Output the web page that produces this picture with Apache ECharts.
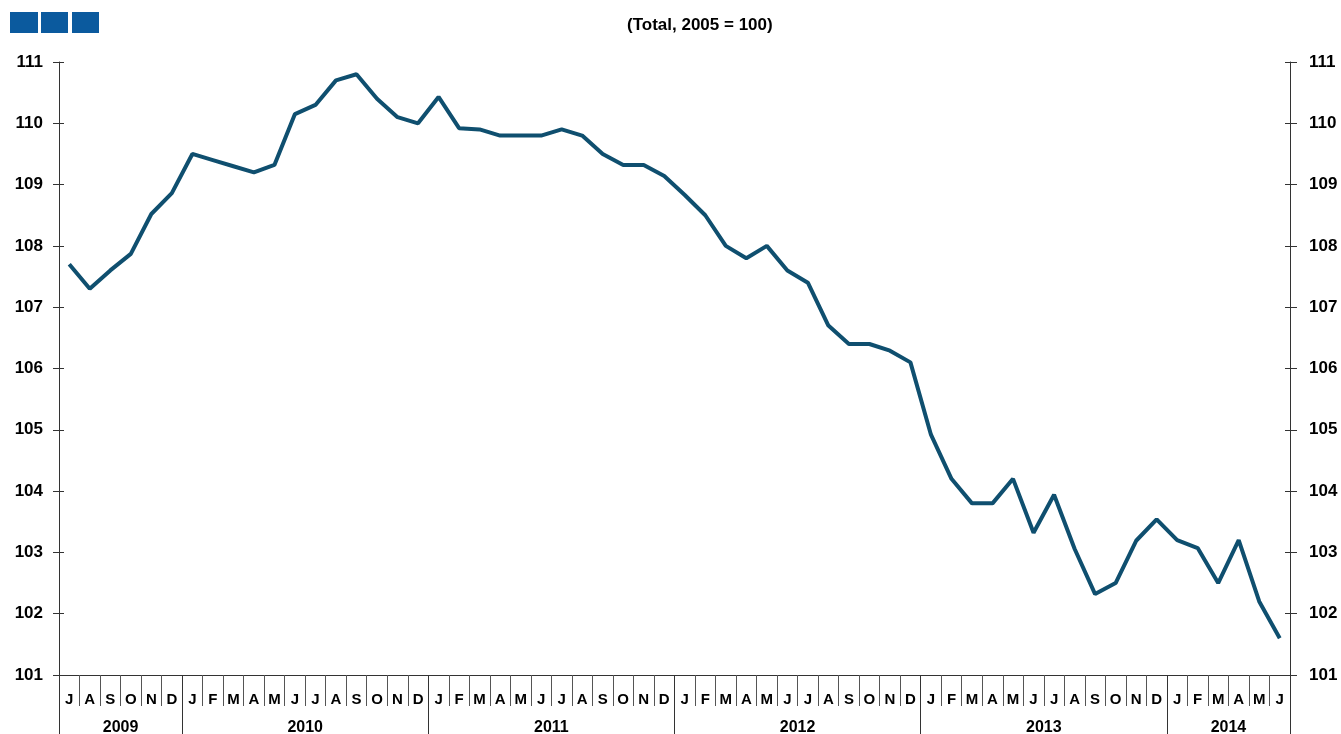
<!DOCTYPE html>
<html>
<head>
<meta charset="utf-8">
<script src="https://cdn.jsdelivr.net/npm/echarts@6/dist/echarts.min.js"></script>
<style>
  html, body { margin: 0; padding: 0; background: #fff; }
  #grafico { width: 1341px; height: 734px; }
</style>
</head>
<body>
<div id="grafico"></div>
<script>
// months Jul 2009 - Jun 2014
var months = [
  'J','A','S','O','N','D',
  'J','F','M','A','M','J','J','A','S','O','N','D',
  'J','F','M','A','M','J','J','A','S','O','N','D',
  'J','F','M','A','M','J','J','A','S','O','N','D',
  'J','F','M','A','M','J','J','A','S','O','N','D',
  'J','F','M','A','M','J'
];

var values = [
  107.7, 107.3, 107.6, 107.87, 108.52, 108.86,
  109.5, 109.4, 109.3, 109.2, 109.32, 110.15, 110.3, 110.7, 110.8, 110.4, 110.1, 110.0,
  110.43, 109.92, 109.9, 109.8, 109.8, 109.8, 109.9, 109.8, 109.5, 109.32, 109.32, 109.14,
  108.83, 108.5, 108.0, 107.8, 108.0, 107.6, 107.4, 106.7, 106.4, 106.4, 106.29, 106.1,
  104.92, 104.2, 103.8, 103.8, 104.2, 103.32, 103.94, 103.06, 102.32, 102.5, 103.19, 103.54,
  103.2, 103.07, 102.5, 103.2, 102.2, 101.6
];

var years = ['2009', '2010', '2011', '2012', '2013', '2014'];
// index of first month of each year in months[], plus the end
var yearBounds = [0, 6, 18, 30, 42, 54, 60];

var yearMids = [];
for (var i = 0; i < years.length; i++) {
  yearMids.push((yearBounds[i] + yearBounds[i + 1]) / 2);
}

var dom = document.getElementById('grafico');
var myChart = echarts.init(dom);

var axisColor = '#333';
var font = 'Liberation Sans, Arial, sans-serif';

function yAx(pos, withLabel, inside, len) {
  return {
    type: 'value',
    position: pos,
    min: 101,
    max: 111,
    interval: 1,
    axisLine: { show: withLabel, lineStyle: { color: axisColor, width: 1 } },
    axisTick: { show: true, inside: inside, length: len, lineStyle: { color: axisColor, width: 1 } },
    axisLabel: {
      show: withLabel,
      margin: pos === 'left' ? 16 : 19,
      color: '#000',
      fontFamily: font,
      fontWeight: 'bold',
      fontSize: 17
    },
    splitLine: { show: false }
  };
}

var option = {
  animation: false,
  grid: { left: 59, right: 51, top: 62, bottom: 59, outerBoundsMode: 'none', containLabel: false },
  graphic: [
    { type: 'rect', shape: { x: 10, y: 12, width: 28, height: 21 }, style: { fill: '#0b5a9e' } },
    { type: 'rect', shape: { x: 41, y: 12, width: 27, height: 21 }, style: { fill: '#0b5a9e' } },
    { type: 'rect', shape: { x: 72, y: 12, width: 27, height: 21 }, style: { fill: '#0b5a9e' } },
    {
      type: 'text', left: 627, top: 17,
      style: { text: '(Total, 2005 = 100)', fill: '#000', font: 'bold 17px ' + font }
    }
  ],
  xAxis: [{
    type: 'category',
    data: months,
    boundaryGap: true,
    position: 'bottom',
    axisLine: { show: true, lineStyle: { color: axisColor, width: 1 } },
    axisTick: { show: true, interval: 0, length: 31, lineStyle: { color: '#555', width: 1 } },
    axisLabel: {
      interval: 0, margin: 17, color: '#000',
      fontFamily: font, fontWeight: 'bold', fontSize: 15
    },
    splitLine: { show: false }
  }, {
    type: 'value',
    min: 0,
    max: 60,
    position: 'bottom',
    axisLine: { show: false },
    axisTick: { show: true, customValues: yearBounds, length: 60, lineStyle: { color: axisColor, width: 1 } },
    axisLabel: {
      customValues: yearMids,
      margin: 45,
      color: '#000',
      fontFamily: font, fontWeight: 'bold', fontSize: 16,
      formatter: function (v) {
        var k = yearMids.indexOf(v);
        return k >= 0 ? years[k] : '';
      }
    },
    splitLine: { show: false }
  }],
  yAxis: [
    yAx('left', true, false, 6),
    yAx('left', false, true, 5),
    yAx('right', true, false, 7),
    yAx('right', false, true, 5)
  ],
  series: [{
    name: 'Total',
    type: 'line',
    xAxisIndex: 0,
    yAxisIndex: 0,
    data: values,
    showSymbol: false,
    lineStyle: { color: '#0f4f6f', width: 4 },
    itemStyle: { color: '#0f4f6f' }
  }]
};

myChart.setOption(option, true);
</script>
</body>
</html>
